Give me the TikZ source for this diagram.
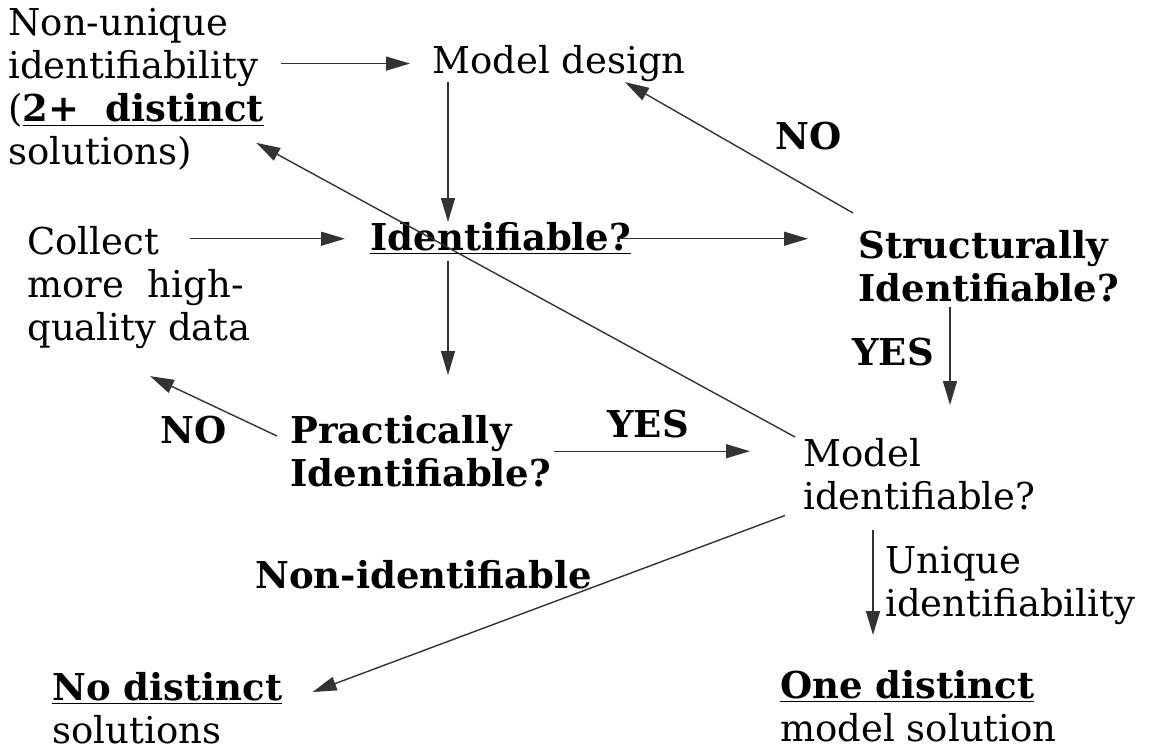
\documentclass[tikz,border=0pt]{standalone}
\usepackage{fontspec}
\setmainfont{DejaVu Serif}
\usetikzlibrary{arrows.meta,calc}

\begin{document}
\begin{tikzpicture}[x=0.5pt, y=-0.5pt, >={Triangle[length=12pt,width=7pt]},
  txt/.style={inner sep=0pt, anchor=north west, align=left,
    font=\fontsize{18.5}{21.5}\selectfont},
  arr/.style={->, line width=0.7pt, black!80}]
\useasboundingbox (0,0) rectangle (1150,751);

% Text blocks
\node[txt] (nonuniq) at (8,8) {Non-unique\\identifiability\\(\underline{\textbf{2+~~distinct}}\\solutions)};
\node[txt] (design) at (432,45) {Model design};
\node[txt] (ident) at (370,222) {\underline{\textbf{Identifiable?}}};
\node[txt] (collect) at (27,226) {Collect\\more~~high-\\quality data};
\node[txt] (struct) at (858,230) {\textbf{Structurally}\\\textbf{Identifiable?}};
\node[txt] (practical) at (290,415) {\textbf{Practically}\\\textbf{Identifiable?}};
\node[txt] (modid) at (803,438) {Model\\identifiable?};
\node[txt] (nodist) at (52,672) {\underline{\textbf{No distinct}}\\solutions};
\node[txt] (onedist) at (780,670) {\underline{\textbf{One distinct}}\\model solution};

% Branch labels
\node[txt] (noA) at (775,122) {\textbf{NO}};
\node[txt] (yesA) at (852,338) {\textbf{YES}};
\node[txt] (noB) at (160,416) {\textbf{NO}};
\node[txt] (yesB) at (607,410) {\textbf{YES}};
\node[txt] (nonid) at (255,560) {\textbf{Non-identifiable}};
\node[txt] (unique) at (885,546) {Unique\\identifiability};

% Arrows
\draw[arr] ($(nonuniq.east |- design.west)+(17,0)$) -- ($(design.west)+(-22,0)$);
\draw[arr] ($(design.south west)+(16,0)$) -- ($(design.south west |- ident.north)+(16,0)$);
\draw[arr] ($(collect.north west |- ident.west)+(163,0)$) -- ($(ident.west)+(-25,0)$);
\draw[arr] ($(ident.east)+(-15,0)$) -- ($(struct.north west |- ident.east)+(-50,0)$);
\draw[arr] ($(ident.south west)+(78,6)$) -- ($(ident.south west |- practical.north)+(78,-40)$);
\draw[arr] ($(practical.north west)+(-13,21)$) -- ($(collect.south west)+(123,27)$);
\draw[arr] ($(struct.north west)+(-5,-17)$) -- ($(design.south west)+(193,0)$);
\draw[arr] ($(struct.south west)+(92,5)$) -- ($(struct.south west |- modid.north)+(92,-33)$);
\draw[arr] ($(practical.east)+(2,0)$) -- ($(modid.west |- practical.east)+(-53,0)$);
\draw[arr] ($(modid.north west)+(-8,-1)$) -- ($(nonuniq.south east)+(-8,-28)$);
\draw[arr] ($(modid.south west)+(-18,5)$) -- ($(nodist.north east)+(30,20)$);
\draw[arr] ($(modid.south west)+(70,20)$) -- ($(modid.south west |- onedist.north)+(70,-35)$);
\end{tikzpicture}
\end{document}
